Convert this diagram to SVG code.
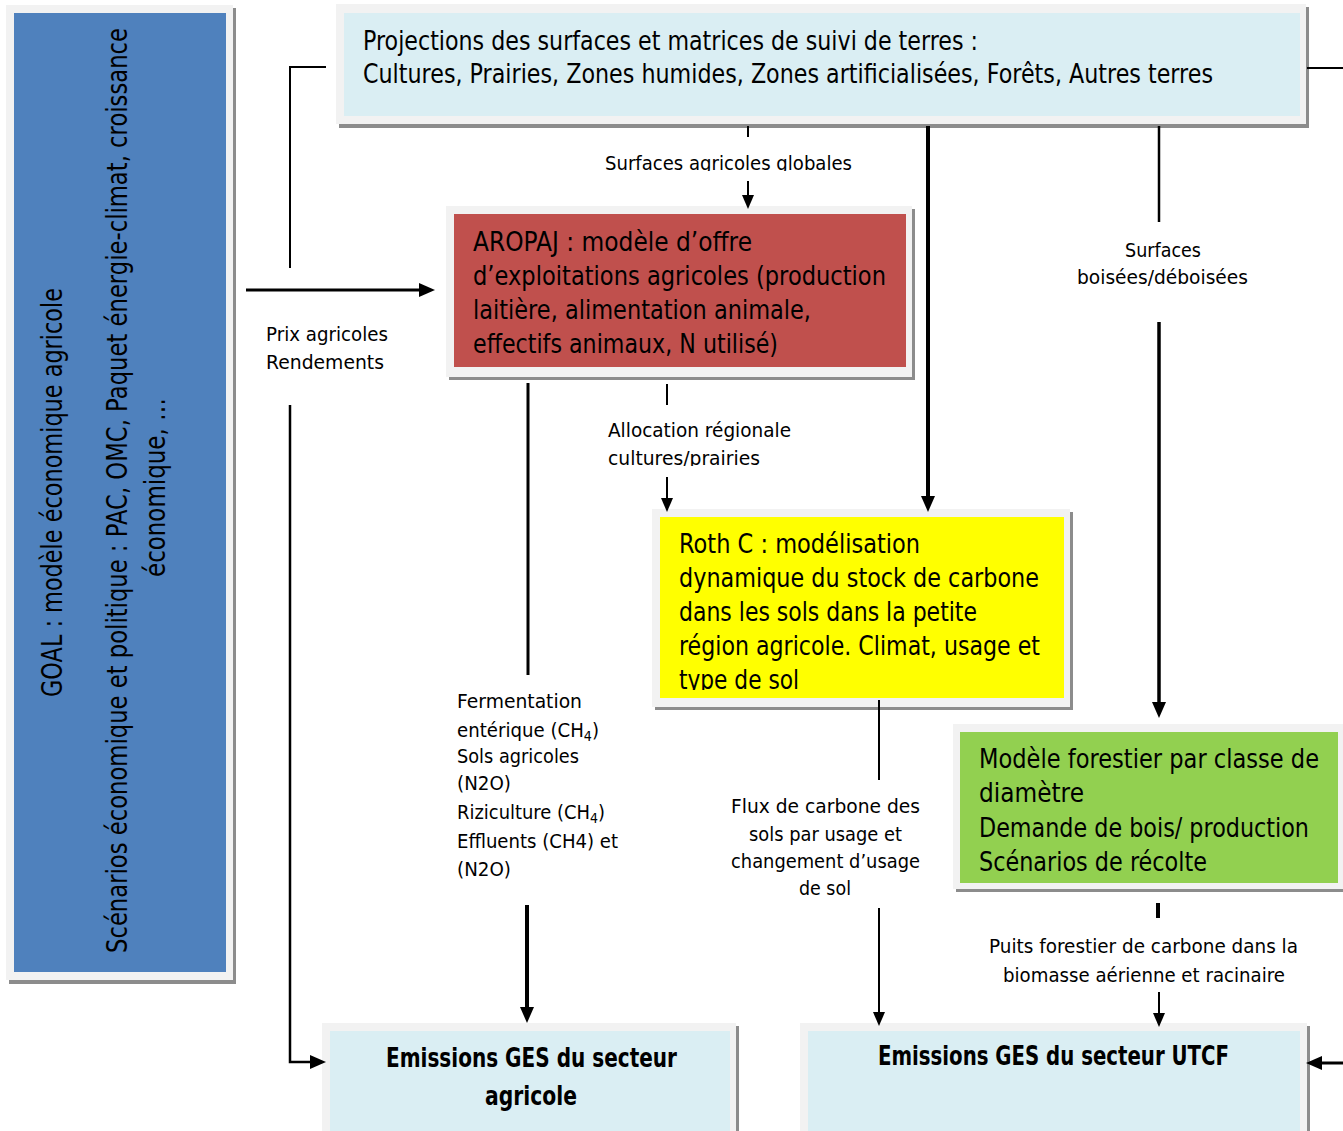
<svg xmlns="http://www.w3.org/2000/svg" width="1343" height="1131" viewBox="0 0 1343 1131">
<style>
.sh{fill:#8c8c8c}
.fr{fill:#f2f2f2}
.t{font-family:"DejaVu Sans",sans-serif;fill:#000}
.box{font-size:26px}
.lbl{font-size:20px}
.vt{font-size:29px}
.bold{font-size:26px;font-weight:bold}
.ln{stroke:#000;fill:none}
.sub{font-size:14px}
</style>
<defs>
<marker id="ah" markerUnits="userSpaceOnUse" markerWidth="16" markerHeight="14" refX="6" refY="7" orient="auto" overflow="visible">
<path d="M0,0 L16,7 L0,14 z" fill="#000"/>
</marker>
<marker id="ahs" markerUnits="userSpaceOnUse" markerWidth="14" markerHeight="12" refX="5" refY="6" orient="auto" overflow="visible">
<path d="M0,0 L14,6 L0,12 z" fill="#000"/>
</marker>
<clipPath id="clip1"><rect x="590" y="140" width="280" height="31"/></clipPath>
<clipPath id="clip2"><rect x="600" y="445" width="180" height="21"/></clipPath>
<clipPath id="clip3"><rect x="660" y="665" width="300" height="25"/></clipPath>
</defs>

<g id="goal">
<rect class="sh" x="9" y="8" width="227" height="976"/>
<rect class="fr" x="6" y="5" width="227" height="975"/>
<rect x="14" y="13" width="212" height="959" fill="#4f81bd"/>
<text class="t vt" transform="translate(62,697) rotate(-90)" textLength="409" lengthAdjust="spacingAndGlyphs">GOAL : modèle économique agricole</text>
<text class="t vt" transform="translate(127,953) rotate(-90)" textLength="925" lengthAdjust="spacingAndGlyphs">Scénarios économique et politique : PAC, OMC, Paquet énergie-climat, croissance</text>
<text class="t vt" transform="translate(165,577) rotate(-90)" textLength="179" lengthAdjust="spacingAndGlyphs">économique, …</text>
</g>

<g id="projections">
<rect class="sh" x="339" y="7" width="970" height="121"/>
<rect class="fr" x="336" y="4" width="970" height="120"/>
<rect x="344" y="13" width="956" height="103" fill="#daeef3"/>
<text class="t box" x="363" y="50" textLength="615" lengthAdjust="spacingAndGlyphs">Projections des surfaces et matrices de suivi de terres :</text>
<text class="t box" x="363" y="83" textLength="850" lengthAdjust="spacingAndGlyphs">Cultures, Prairies, Zones humides, Zones artificialisées, Forêts, Autres terres</text>
</g>

<g id="aropaj">
<rect class="sh" x="449" y="209" width="466" height="171"/>
<rect class="fr" x="446" y="206" width="466" height="171"/>
<rect x="454" y="214" width="452" height="153" fill="#c0504d"/>
<text class="t box" x="473" y="251" textLength="279" lengthAdjust="spacingAndGlyphs">AROPAJ : modèle d’offre</text>
<text class="t box" x="473" y="285" textLength="413" lengthAdjust="spacingAndGlyphs">d’exploitations agricoles (production</text>
<text class="t box" x="473" y="319" textLength="338" lengthAdjust="spacingAndGlyphs">laitière, alimentation animale,</text>
<text class="t box" x="473" y="353" textLength="305" lengthAdjust="spacingAndGlyphs">effectifs animaux, N utilisé)</text>
</g>

<g id="rothc">
<rect class="sh" x="655" y="512" width="418" height="198"/>
<rect class="fr" x="652" y="509" width="418" height="198"/>
<rect x="660" y="517" width="404" height="181" fill="#ffff00"/>
<text class="t box" x="679" y="553" textLength="241" lengthAdjust="spacingAndGlyphs">Roth C : modélisation</text>
<text class="t box" x="679" y="587" textLength="360" lengthAdjust="spacingAndGlyphs">dynamique du stock de carbone</text>
<text class="t box" x="679" y="621" textLength="298" lengthAdjust="spacingAndGlyphs">dans les sols dans la petite</text>
<text class="t box" x="679" y="655" textLength="361" lengthAdjust="spacingAndGlyphs">région agricole. Climat, usage et</text>
<text class="t box" x="679" y="689" textLength="120" lengthAdjust="spacingAndGlyphs" clip-path="url(#clip3)">type de sol</text>
</g>

<g id="forestier">
<rect class="sh" x="956" y="727" width="395" height="165"/>
<rect class="fr" x="953" y="724" width="395" height="165"/>
<rect x="960" y="732" width="378" height="151" fill="#92d050"/>
<text class="t box" x="979" y="768" textLength="340" lengthAdjust="spacingAndGlyphs">Modèle forestier par classe de</text>
<text class="t box" x="979" y="802" textLength="105" lengthAdjust="spacingAndGlyphs">diamètre</text>
<text class="t box" x="979" y="837" textLength="330" lengthAdjust="spacingAndGlyphs">Demande de bois/ production</text>
<text class="t box" x="979" y="871" textLength="228" lengthAdjust="spacingAndGlyphs">Scénarios de récolte</text>
</g>

<g id="emissions-agricole">
<rect class="sh" x="325" y="1026" width="414" height="120"/>
<rect class="fr" x="322" y="1023" width="414" height="120"/>
<rect x="330" y="1031" width="400" height="110" fill="#daeef3"/>
<text class="t bold" x="386" y="1067" textLength="291" lengthAdjust="spacingAndGlyphs">Emissions GES du secteur</text>
<text class="t bold" x="485" y="1105" textLength="92" lengthAdjust="spacingAndGlyphs">agricole</text>
</g>

<g id="emissions-utcf">
<rect class="sh" x="803" y="1026" width="507" height="120"/>
<rect class="fr" x="800" y="1023" width="507" height="120"/>
<rect x="808" y="1031" width="492" height="110" fill="#daeef3"/>
<text class="t bold" x="878" y="1065" textLength="351" lengthAdjust="spacingAndGlyphs">Emissions GES du secteur UTCF</text>
</g>

<g id="connectors">
<polyline class="ln" points="326,67 290,67 290,268" stroke-width="2"/>
<polyline class="ln" points="290,405 290,1062 316,1062" stroke-width="2.5" marker-end="url(#ah)"/>
<line class="ln" x1="246" y1="290" x2="425" y2="290" stroke-width="3" marker-end="url(#ah)"/>
<line class="ln" x1="748" y1="126" x2="748" y2="137" stroke-width="2"/>
<line class="ln" x1="748" y1="181" x2="748" y2="200" stroke-width="2" marker-end="url(#ahs)"/>
<line class="ln" x1="928" y1="126" x2="928" y2="502" stroke-width="4" marker-end="url(#ah)"/>
<line class="ln" x1="1159" y1="126" x2="1159" y2="222" stroke-width="2.5"/>
<line class="ln" x1="1159" y1="322" x2="1159" y2="708" stroke-width="3.5" marker-end="url(#ah)"/>
<line class="ln" x1="667" y1="384" x2="667" y2="405" stroke-width="2"/>
<line class="ln" x1="667" y1="477" x2="667" y2="503" stroke-width="2" marker-end="url(#ahs)"/>
<line class="ln" x1="528" y1="383" x2="528" y2="675" stroke-width="3"/>
<line class="ln" x1="527" y1="905" x2="527" y2="1013" stroke-width="4" marker-end="url(#ah)"/>
<line class="ln" x1="879" y1="700" x2="879" y2="780" stroke-width="2"/>
<line class="ln" x1="879" y1="908" x2="879" y2="1017" stroke-width="2" marker-end="url(#ahs)"/>
<line class="ln" x1="1158" y1="903" x2="1158" y2="918" stroke-width="4"/>
<line class="ln" x1="1159" y1="992" x2="1159" y2="1018" stroke-width="2" marker-end="url(#ahs)"/>
<line class="ln" x1="1307" y1="68" x2="1343" y2="68" stroke-width="2"/>
<line class="ln" x1="1343" y1="1063" x2="1316" y2="1063" stroke-width="3" marker-end="url(#ah)"/>
</g>

<g id="labels">
<text class="t lbl" x="605" y="170" textLength="247" lengthAdjust="spacingAndGlyphs" clip-path="url(#clip1)">Surfaces agricoles globales</text>
<text class="t lbl" x="266" y="341" textLength="122" lengthAdjust="spacingAndGlyphs">Prix agricoles</text>
<text class="t lbl" x="266" y="369" textLength="118" lengthAdjust="spacingAndGlyphs">Rendements</text>
<text class="t lbl" x="608" y="437" textLength="183" lengthAdjust="spacingAndGlyphs">Allocation régionale</text>
<text class="t lbl" x="608" y="465" textLength="152" lengthAdjust="spacingAndGlyphs" clip-path="url(#clip2)">cultures/prairies</text>
<text class="t lbl" x="1125" y="257" textLength="76" lengthAdjust="spacingAndGlyphs">Surfaces</text>
<text class="t lbl" x="1077" y="284" textLength="171" lengthAdjust="spacingAndGlyphs">boisées/déboisées</text>
<text class="t lbl" x="457" y="708" textLength="125" lengthAdjust="spacingAndGlyphs">Fermentation</text>
<text class="t lbl" x="457" y="737" textLength="142" lengthAdjust="spacingAndGlyphs">entérique (CH<tspan class="sub" dy="4">4</tspan><tspan dy="-4">)</tspan></text>
<text class="t lbl" x="457" y="763" textLength="122" lengthAdjust="spacingAndGlyphs">Sols agricoles</text>
<text class="t lbl" x="457" y="790" textLength="54" lengthAdjust="spacingAndGlyphs">(N2O)</text>
<text class="t lbl" x="457" y="819" textLength="148" lengthAdjust="spacingAndGlyphs">Riziculture (CH<tspan class="sub" dy="4">4</tspan><tspan dy="-4">)</tspan></text>
<text class="t lbl" x="457" y="848" textLength="161" lengthAdjust="spacingAndGlyphs">Effluents (CH4) et</text>
<text class="t lbl" x="457" y="876" textLength="54" lengthAdjust="spacingAndGlyphs">(N2O)</text>
<text class="t lbl" x="731" y="813" textLength="189" lengthAdjust="spacingAndGlyphs">Flux de carbone  des</text>
<text class="t lbl" x="749" y="841" textLength="153" lengthAdjust="spacingAndGlyphs">sols par usage et</text>
<text class="t lbl" x="731" y="868" textLength="189" lengthAdjust="spacingAndGlyphs">changement d’usage</text>
<text class="t lbl" x="799" y="895" textLength="52" lengthAdjust="spacingAndGlyphs">de sol</text>
<text class="t lbl" x="989" y="953" textLength="309" lengthAdjust="spacingAndGlyphs">Puits forestier de carbone dans la</text>
<text class="t lbl" x="1003" y="982" textLength="282" lengthAdjust="spacingAndGlyphs">biomasse aérienne et racinaire</text>
</g>
</svg>
